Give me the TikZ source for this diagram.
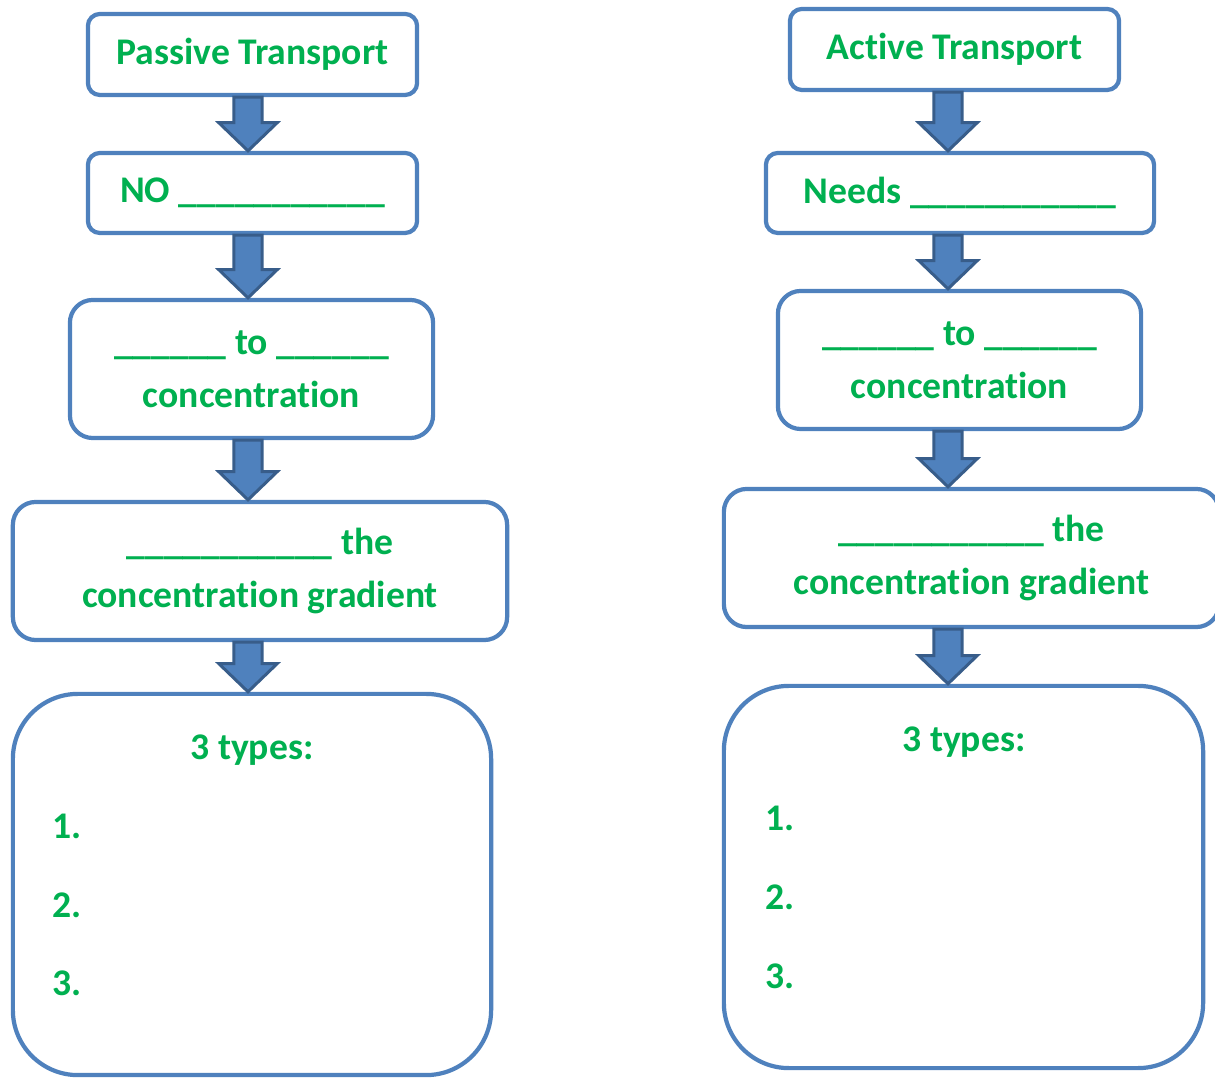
\documentclass[tikz,border=0pt]{standalone}
\usepackage{fontspec}
\setmainfont{Carlito}[Ligatures=NoCommon]
\usetikzlibrary{calc}
\definecolor{FlowGreen}{HTML}{00B050}
\definecolor{FlowBlue}{HTML}{4F81BD}
\definecolor{FlowEdge}{HTML}{385D8A}
\tikzset{
  flow/box/.style={
    draw=FlowBlue, line width=1.2pt, fill=white, rounded corners=3.4pt,
    inner sep=0pt, text=FlowGreen, align=center,
    font=\fontsize{10.7}{15.1}\selectfont\bfseries
  },
  flow/tall/.style={flow/box, rounded corners=6.5pt},
  flow/list/.style={flow/box, rounded corners=18.5pt},
  flow/text/.style={inner sep=0pt, text=FlowGreen,
    font=\fontsize{10.7}{15.1}\selectfont\bfseries},
  flow/arrow/.style={fill=FlowBlue, draw=FlowEdge, line width=.85pt,
    line join=miter}
}
% block arrow #2 -> #3, on the column of coordinate #1
\newcommand{\flowarrow}[3]{%
  \draw[flow/arrow] let \p1=(#2.south -| #1), \p2=(#3.north -| #1) in
    (\x1-4pt,\y1) -- (\x1-4pt,\y2+8pt) -- (\x1-8.3pt,\y2+8pt) -- (\x1,\y2)
    -- (\x1+8.3pt,\y2+8pt) -- (\x1+4pt,\y2+8pt) -- (\x1+4pt,\y1) -- cycle;}

\begin{document}
\begin{tikzpicture}[x=0.01cm,y=-0.01cm]
  \useasboundingbox (0,0) rectangle (1215,1080);
  \coordinate (lcol) at (248,0);
  \coordinate (rcol) at (948,0);
  % passive transport
  \node[flow/box,minimum width=3.29cm,minimum height=.81cm] (pas1) at (252.5,54.5)
    {Passive Transport};
  \node[flow/box,minimum width=3.29cm,minimum height=.80cm] (pas2) at (252.5,193)
    {NO \_\_\_\_\_\_\_\_\_\_\_};
  \node[flow/tall,minimum width=3.63cm,minimum height=1.38cm] (pas3) at (251.5,369)
    {\_\_\_\_\_\_ to \_\_\_\_\_\_\\concentration};
  \node[flow/tall,minimum width=4.94cm,minimum height=1.38cm] (pas4) at (260,571)
    {\_\_\_\_\_\_\_\_\_\_\_ the\\concentration gradient};
  \node[flow/list,minimum width=4.78cm,minimum height=3.81cm] (pas5) at (252,884.5) {};
  \node[flow/text,anchor=base] (pastypes) at (252,760) {3 types:};
  \foreach \i in {1,2,3}
    \node[flow/text,anchor=base west] (pasitem\i) at (52,760+78.6*\i) {\i.};
  % active transport
  \node[flow/box,minimum width=3.29cm,minimum height=.81cm] (act1) at (954.5,49.5)
    {Active Transport};
  \node[flow/box,minimum width=3.88cm,minimum height=.80cm] (act2) at (960,193)
    {Needs \_\_\_\_\_\_\_\_\_\_\_};
  \node[flow/tall,minimum width=3.63cm,minimum height=1.38cm] (act3) at (959.5,360)
    {\_\_\_\_\_\_ to \_\_\_\_\_\_\\concentration};
  \node[flow/tall,minimum width=4.95cm,minimum height=1.38cm] (act4) at (971.5,558)
    {\_\_\_\_\_\_\_\_\_\_\_ the\\concentration gradient};
  \node[flow/list,minimum width=4.79cm,minimum height=3.82cm] (act5) at (963.5,877) {};
  \node[flow/text,anchor=base] (acttypes) at (964,752) {3 types:};
  \foreach \i in {1,2,3}
    \node[flow/text,anchor=base west] (actitem\i) at (765,752+79*\i) {\i.};
  % connectors
  \foreach \a/\b in {pas1/pas2,pas2/pas3,pas3/pas4,pas4/pas5}
    \flowarrow{lcol}{\a}{\b};
  \foreach \a/\b in {act1/act2,act2/act3,act3/act4,act4/act5}
    \flowarrow{rcol}{\a}{\b};
\end{tikzpicture}
\end{document}
